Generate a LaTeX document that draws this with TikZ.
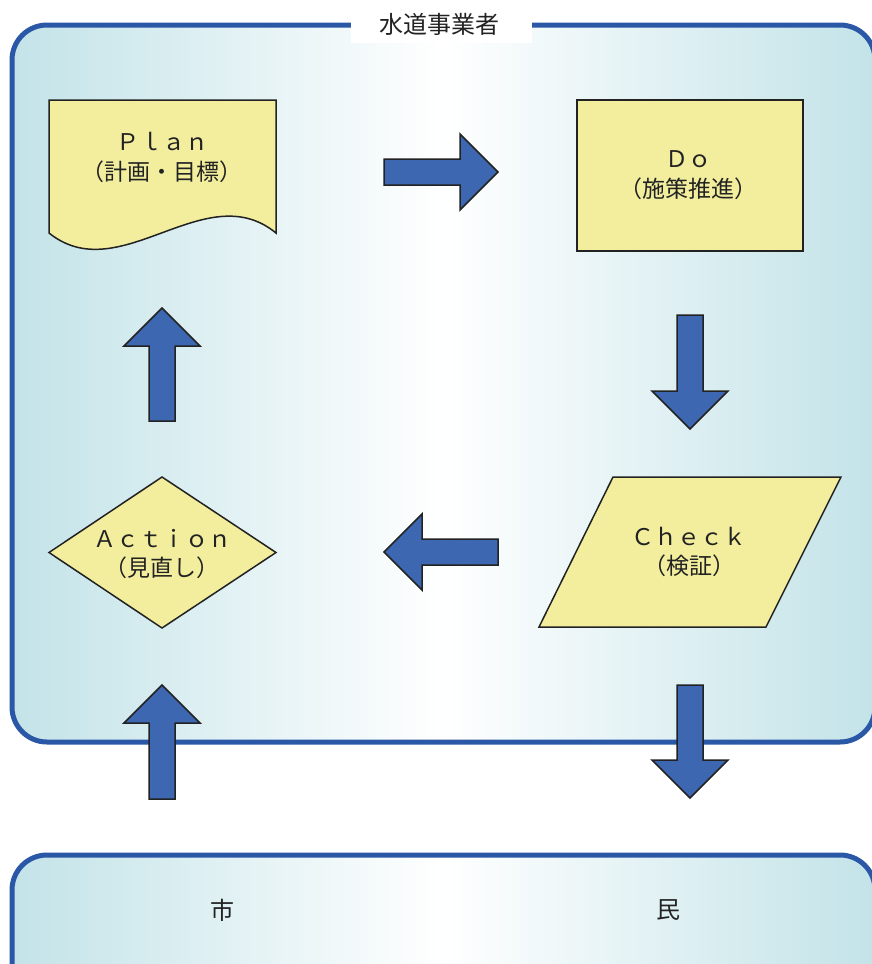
\documentclass[tikz,border=0pt]{standalone}
\usepackage{fontspec}
\newfontfamily\jp{Noto Sans CJK JP}
\usetikzlibrary{calc}

\definecolor{frameblue}{HTML}{2B57A7}
\definecolor{arrowblue}{HTML}{3E67B1}
\definecolor{memo}{HTML}{F2EE9E}
\definecolor{aqua}{HTML}{C3E3E8}
\definecolor{ink}{HTML}{222222}

\tikzset{
  panel/.style={draw=frameblue, line width=5pt, rounded corners=35pt,
    left color=aqua, right color=aqua, middle color=white, inner sep=0pt},
  stepshape/.style={draw=ink, fill=memo, line width=1.5pt, line join=miter},
  steptext/.style={font=\jp\fontsize{23}{29.5}\selectfont, align=center,
    text=ink, inner sep=0pt},
  bigtext/.style={font=\jp\fontsize{24}{28}\selectfont, text=ink, inner sep=0pt},
  arrowshape/.style={draw=ink, fill=arrowblue, line width=1.5pt, line join=miter},
}

% thick block arrow from #1 to #2: shaft 26, head 76 wide and 38 long
\newcommand\blockarrow[2]{%
  \coordinate (#1h) at ($(#2)!38pt!(#1)$);
  \draw[arrowshape]
    ($(#1)!13pt!90:(#2)$) -- ($(#1h)!13pt!90:(#2)$) -- ($(#1h)!38pt!90:(#2)$)
    -- (#2)
    -- ($(#1h)!38pt!-90:(#2)$) -- ($(#1h)!13pt!-90:(#2)$) -- ($(#1)!13pt!-90:(#2)$)
    -- cycle;}

\begin{document}
\begin{tikzpicture}[x=1pt, y=-1pt]
  \clip (0,0) rectangle (872,964);
  \fill[white] (0,0) rectangle (872,964);

  % the water utility and the citizens
  \node[panel, minimum width=863pt, minimum height=717pt] (utility) at (443.5,383.5) {};
  \node[panel, minimum width=863pt, minimum height=145pt] (citizens) at (443.5,927.5) {};
  \node[fill=white, minimum width=181pt, minimum height=36pt, inner sep=0pt] (titlebg) at (441.5,25) {};
  \node[bigtext] (title) at (439,24) {水道事業者};
  \node[bigtext] (shi) at (222,910) {市};
  \node[bigtext] (min) at (668,910) {民};

  % Plan: document shape with a wavy bottom edge
  \draw[stepshape] (49,233) -- (49,100) -- (276,100) -- (276,233)
    .. controls (205,175) and (120,290) .. (49,233) -- cycle;
  \node[steptext] (plan) at (162,157.5) {Ｐｌａｎ\\（計画・目標）};

  % Do: plain process box
  \node[stepshape, minimum width=226pt, minimum height=151pt, inner sep=0pt] (dobox) at (690,175.5) {};
  \node[steptext] (do) at (688,175) {Ｄｏ\\（施策推進）};

  % Check: parallelogram
  \draw[stepshape] (613,477) -- (841,477) -- (766,627) -- (539,627) -- cycle;
  \node[steptext] (check) at (689,552) {Ｃｈｅｃｋ\\（検証）};

  % Action: decision diamond
  \draw[stepshape] (162,477) -- (276,552.5) -- (162,628) -- (49,552.5) -- cycle;
  \node[steptext] (action) at (162,554) {Ａｃｔｉｏｎ\\（見直し）};

  % arrow end points
  \coordinate (pd1) at (384,172);  \coordinate (pd2) at (498,172);
  \coordinate (dc1) at (690,315);  \coordinate (dc2) at (690,429);
  \coordinate (ca1) at (498,552);  \coordinate (ca2) at (384,552);
  \coordinate (ap1) at (162,421);  \coordinate (ap2) at (162,308);
  \coordinate (ma1) at (162,799);  \coordinate (ma2) at (162,685);
  \coordinate (cm1) at (690,685);  \coordinate (cm2) at (690,798);

  \blockarrow{pd1}{pd2}
  \blockarrow{dc1}{dc2}
  \blockarrow{ca1}{ca2}
  \blockarrow{ap1}{ap2}
  \blockarrow{ma1}{ma2}
  \blockarrow{cm1}{cm2}
\end{tikzpicture}
\end{document}
